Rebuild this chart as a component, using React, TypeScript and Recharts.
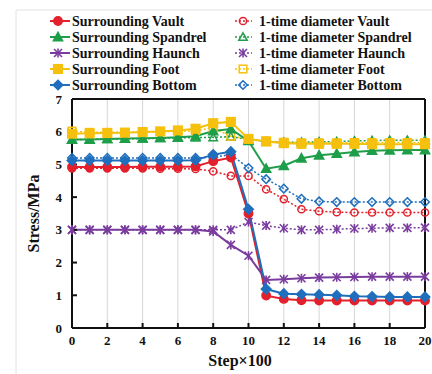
import { CartesianGrid, Line, LineChart, ReferenceLine, XAxis, YAxis } from "recharts";

const steps = [0, 1, 2, 3, 4, 5, 6, 7, 8, 9, 10, 11, 12, 13, 14, 15, 16, 17, 18, 19, 20];
const xTicks = [0, 2, 4, 6, 8, 10, 12, 14, 16, 18, 20];
const yTicks = [0, 1, 2, 3, 4, 5, 6, 7];

const surroundingVault = [4.92, 4.92, 4.92, 4.92, 4.93, 4.93, 4.93, 4.94, 5.1, 5.21, 3.5, 0.99, 0.89, 0.85, 0.84, 0.84, 0.84, 0.84, 0.84, 0.84, 0.84];
const surroundingSpandrel = [5.76, 5.76, 5.78, 5.79, 5.8, 5.81, 5.83, 5.86, 6.02, 6.08, 5.72, 4.87, 4.96, 5.19, 5.28, 5.33, 5.38, 5.42, 5.43, 5.44, 5.44];
const surroundingHaunch = [3, 3, 3, 3, 3, 3, 3, 3, 2.95, 2.54, 2.21, 1.47, 1.49, 1.52, 1.54, 1.55, 1.56, 1.57, 1.57, 1.57, 1.57];
const surroundingFoot = [5.94, 5.95, 5.96, 5.97, 5.99, 6.01, 6.04, 6.09, 6.26, 6.3, 5.78, 5.7, 5.65, 5.63, 5.63, 5.63, 5.63, 5.62, 5.62, 5.62, 5.62];
const surroundingBottom = [5.12, 5.12, 5.12, 5.12, 5.12, 5.12, 5.12, 5.13, 5.3, 5.39, 3.63, 1.19, 1.05, 1.03, 1.02, 1.0, 0.97, 0.96, 0.95, 0.95, 0.95];

const oneVault = [4.88, 4.88, 4.88, 4.88, 4.88, 4.87, 4.87, 4.86, 4.79, 4.65, 4.65, 4.24, 3.94, 3.63, 3.57, 3.54, 3.53, 3.53, 3.53, 3.53, 3.53];
const oneSpandrel = [5.76, 5.77, 5.77, 5.78, 5.79, 5.8, 5.81, 5.82, 5.83, 5.85, 5.76, 5.7, 5.68, 5.68, 5.69, 5.7, 5.72, 5.73, 5.74, 5.74, 5.74];
const oneHaunch = [3, 3, 3, 3, 3, 3, 3, 3, 3, 3, 3.24, 3.13, 3.05, 3.0, 3.0, 3.02, 3.04, 3.05, 3.06, 3.06, 3.07];
const oneFoot = [6.02, 5.98, 5.98, 5.98, 5.99, 6.0, 6.01, 6.03, 6.12, 5.86, 5.78, 5.72, 5.68, 5.66, 5.66, 5.66, 5.67, 5.67, 5.67, 5.67, 5.67];
const oneBottom = [5.2, 5.2, 5.2, 5.2, 5.2, 5.2, 5.2, 5.2, 5.22, 5.3, 4.89, 4.55, 4.26, 3.95, 3.87, 3.85, 3.85, 3.85, 3.85, 3.85, 3.85];

const RED = "#e3202b";
const GREEN = "#1f9e4a";
const PURPLE = "#7a3c9e";
const YELLOW = "#f6c00e";
const BLUE = "#1f6fbd";

const FONT = "'Liberation Serif', 'Times New Roman', serif";

type Shape = "circle" | "triangle" | "star" | "square" | "diamond";

interface SeriesDef {
  key: string;
  name: string;
  color: string;
  shape: Shape;
  solid: boolean;
  values: number[];
}

const solidSeries: SeriesDef[] = [
  { key: "sVault", name: "Surrounding Vault", color: RED, shape: "circle", solid: true, values: surroundingVault },
  { key: "sSpandrel", name: "Surrounding Spandrel", color: GREEN, shape: "triangle", solid: true, values: surroundingSpandrel },
  { key: "sHaunch", name: "Surrounding Haunch", color: PURPLE, shape: "star", solid: true, values: surroundingHaunch },
  { key: "sFoot", name: "Surrounding Foot", color: YELLOW, shape: "square", solid: true, values: surroundingFoot },
  { key: "sBottom", name: "Surrounding Bottom", color: BLUE, shape: "diamond", solid: true, values: surroundingBottom },
];

const dottedSeries: SeriesDef[] = [
  { key: "oVault", name: "1-time diameter Vault", color: RED, shape: "circle", solid: false, values: oneVault },
  { key: "oSpandrel", name: "1-time diameter Spandrel", color: GREEN, shape: "triangle", solid: false, values: oneSpandrel },
  { key: "oHaunch", name: "1-time diameter Haunch", color: PURPLE, shape: "star", solid: false, values: oneHaunch },
  { key: "oFoot", name: "1-time diameter Foot", color: YELLOW, shape: "square", solid: false, values: oneFoot },
  { key: "oBottom", name: "1-time diameter Bottom", color: BLUE, shape: "diamond", solid: false, values: oneBottom },
];

const data = steps.map((step, i) => {
  const row: Record<string, number> = { step };
  [...solidSeries, ...dottedSeries].forEach((s) => {
    row[s.key] = s.values[i];
  });
  return row;
});

// draws one marker; hollow ones let the line show through
function Marker({ cx, cy, shape, color, filled }: { cx: number; cy: number; shape: Shape; color: string; filled: boolean }) {
  const fill = filled ? color : "none";
  const sw = 1.5;
  if (shape === "circle") {
    return <circle cx={cx} cy={cy} r={filled ? 4.2 : 3.6} fill={fill} stroke={color} strokeWidth={sw} />;
  }
  if (shape === "square") {
    const h = filled ? 4.3 : 3.8;
    return <rect x={cx - h} y={cy - h} width={h * 2} height={h * 2} fill={fill} stroke={color} strokeWidth={sw} />;
  }
  if (shape === "triangle") {
    const h = filled ? 4.6 : 4.2;
    return (
      <polygon
        points={`${cx},${cy - h} ${cx + h},${cy + h * 0.8} ${cx - h},${cy + h * 0.8}`}
        fill={fill}
        stroke={color}
        strokeWidth={sw}
      />
    );
  }
  if (shape === "diamond") {
    const h = filled ? 4.8 : 4.3;
    return (
      <polygon
        points={`${cx},${cy - h} ${cx + h},${cy} ${cx},${cy + h} ${cx - h},${cy}`}
        fill={fill}
        stroke={color}
        strokeWidth={sw}
      />
    );
  }
  const h = 4;
  return (
    <g stroke={color} strokeWidth={1.6}>
      <line x1={cx - h} y1={cy - h} x2={cx + h} y2={cy + h} />
      <line x1={cx - h} y1={cy + h} x2={cx + h} y2={cy - h} />
      <line x1={cx} y1={cy - h - 0.5} x2={cx} y2={cy + h + 0.5} />
    </g>
  );
}

function YTitle(props: any) {
  const vb = props.viewBox || {};
  const cy = (vb.y ?? 0) + (vb.height ?? 0) / 2;
  return (
    <text
      x={33}
      y={cy}
      transform={`rotate(-90, 33, ${cy})`}
      textAnchor="middle"
      dominantBaseline="central"
      fontFamily={FONT}
      fontWeight="bold"
      fontSize={16}
      fill="#111"
    >
      Stress/MPa
    </text>
  );
}

function XTitle() {
  return (
    <text x={240} y={360} textAnchor="middle" dominantBaseline="central" fontFamily={FONT} fontWeight="bold" fontSize={16} fill="#111">
      Step×100
    </text>
  );
}

function LegendBox() {
  const rowY = (i: number) => 21 + i * 16;
  return (
    <svg width={432} height={98} style={{ position: "absolute", left: 0, top: 0, pointerEvents: "none" }}>
      {solidSeries.map((s, i) => (
        <g key={s.key}>
          <line x1={50} x2={70} y1={rowY(i)} y2={rowY(i)} stroke={s.color} strokeWidth={2} />
          <Marker cx={58} cy={rowY(i)} shape={s.shape} color={s.color} filled />
          <text x={72} y={rowY(i) + 5} fontFamily={FONT} fontWeight="bold" fontSize={14} fill="#111">
            {s.name}
          </text>
        </g>
      ))}
      {dottedSeries.map((s, i) => (
        <g key={s.key}>
          <line x1={235} x2={252} y1={rowY(i)} y2={rowY(i)} stroke={s.color} strokeWidth={1.5} strokeDasharray="2 2" />
          <Marker cx={243} cy={rowY(i)} shape={s.shape} color={s.color} filled={false} />
          <text x={259} y={rowY(i) + 5} fontFamily={FONT} fontWeight="bold" fontSize={14} fill="#111">
            {s.name}
          </text>
        </g>
      ))}
    </svg>
  );
}

const tickStyle = { fill: "#111", fontSize: 13, fontWeight: "bold", fontFamily: FONT };

export default function App() {
  return (
    <div style={{ position: "absolute", left: 0, top: 0, width: 432, height: 374, background: "#fff" }}>
      <svg width={432} height={374} style={{ position: "absolute", left: 0, top: 0 }}>
        <line x1={16} x2={432} y1={10} y2={10} stroke="#e2e2e2" strokeWidth={1} />
        <line x1={16} x2={16} y1={10} y2={374} stroke="#e2e2e2" strokeWidth={1} />
      </svg>
      <div style={{ position: "absolute", left: 0, top: 0 }}>
        <LineChart width={432} height={374} data={data} margin={{ top: 99, right: 7, bottom: 0, left: 0 }}>
          <CartesianGrid horizontal={false} stroke="#d6d6d6" strokeWidth={1} />
          <XAxis
            dataKey="step"
            type="number"
            domain={[0, 20]}
            ticks={xTicks}
            height={46}
            tickSize={-5}
            tickMargin={13}
            stroke="#111"
            strokeWidth={2}
            tick={tickStyle}
            label={<XTitle />}
          />
          <YAxis
            type="number"
            domain={[0, 7]}
            ticks={yTicks}
            width={72}
            tickSize={-5}
            tickMargin={15}
            stroke="#111"
            strokeWidth={2}
            tick={tickStyle}
            label={<YTitle />}
          />
          <ReferenceLine y={7} stroke="#111" strokeWidth={2} />
          <ReferenceLine x={20} stroke="#111" strokeWidth={2} />
          {dottedSeries.map((s) => (
            <Line
              key={s.key}
              dataKey={s.key}
              name={s.name}
              stroke={s.color}
              strokeWidth={1.5}
              strokeDasharray="2 2"
              isAnimationActive={false}
              dot={(p: any) => <Marker key={`${s.key}-${p.index}`} cx={p.cx} cy={p.cy} shape={s.shape} color={s.color} filled={false} />}
              activeDot={false}
            />
          ))}
          {solidSeries.map((s) => (
            <Line
              key={s.key}
              dataKey={s.key}
              name={s.name}
              stroke={s.color}
              strokeWidth={2}
              isAnimationActive={false}
              dot={(p: any) => <Marker key={`${s.key}-${p.index}`} cx={p.cx} cy={p.cy} shape={s.shape} color={s.color} filled />}
              activeDot={false}
            />
          ))}
        </LineChart>
      </div>
      <LegendBox />
    </div>
  );
}
